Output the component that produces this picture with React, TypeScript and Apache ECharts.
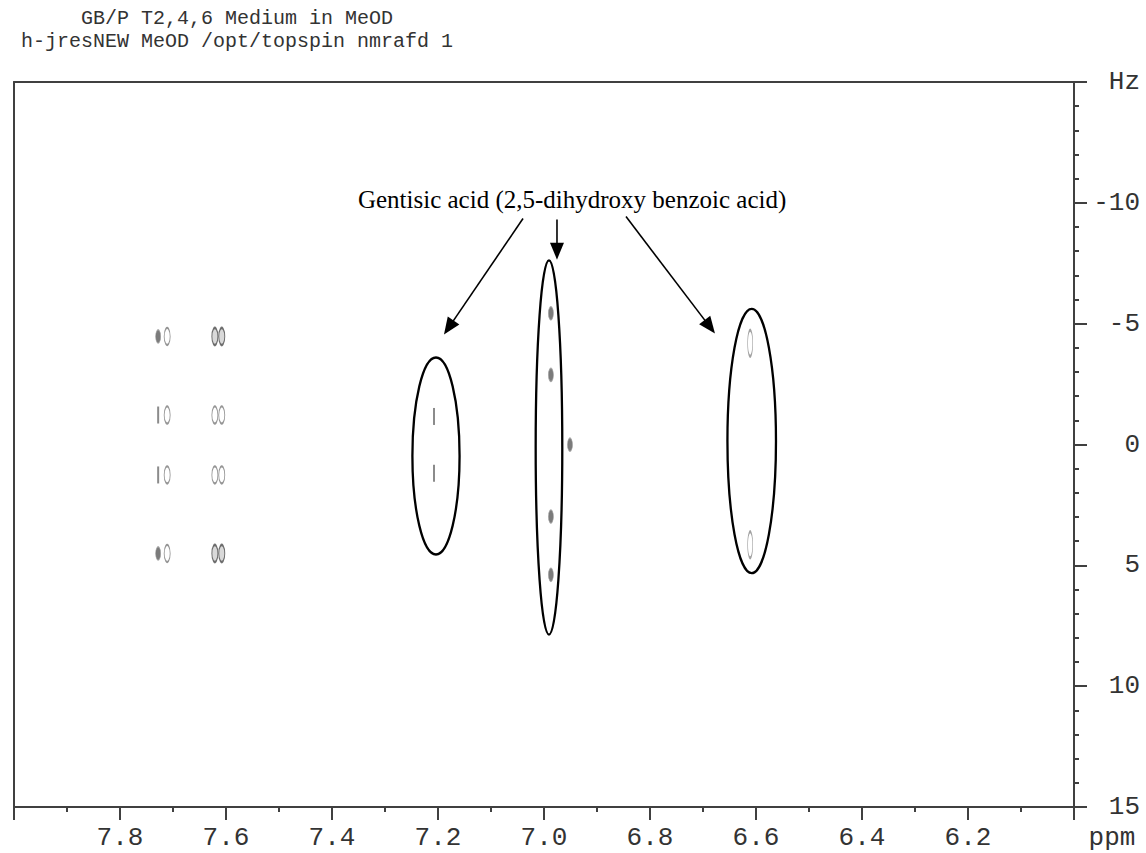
import React, { useEffect, useRef } from "react";
import * as echarts from "echarts";

// ---- header text ----
const titleLines = ["GB/P T2,4,6 Medium in MeOD", "h-jresNEW MeOD /opt/topspin nmrafd 1"];

// ---- axes (F2 chemical shift in ppm, F1 J-coupling in Hz) ----
const ppmMin = 6.0;
const ppmMax = 8.0;
const ppmStep = 0.2;
const hzMin = -15;
const hzMax = 15;
const hzStep = 5;
const xUnit = "ppm";
const yUnit = "Hz";

// ---- peaks [ppm, Hz] ----
const darkDotPeaks = [
  [7.728, -4.47],
  [7.728, 4.51],
  [6.987, -5.43],
  [6.987, -2.88],
  [6.987, 2.98],
  [6.987, 5.39],
  [6.951, 0.01],
];
const thinPeaks = [
  [7.728, -1.22],
  [7.728, 1.26],
  [7.2075, -1.16],
  [7.2075, 1.19],
];
const ringPeaks = [
  [7.711, -4.47],
  [7.711, -1.22],
  [7.711, 1.26],
  [7.711, 4.51],
  [7.621, -1.22],
  [7.621, 1.26],
  [7.608, -1.22],
  [7.608, 1.26],
];
const darkRingPeaks = [
  [7.621, -4.47],
  [7.621, 4.51],
  [7.608, -4.47],
  [7.608, 4.51],
];
const longRingPeaks = [
  [6.611, -4.19],
  [6.611, 4.15],
];

// ---- annotation (data coordinates) ----
const groupLabel = "Gentisic acid (2,5-dihydroxy benzoic acid)";
const groupLabelAt = [6.947, -10.14];
const circledCenters = [
  [7.2038, 0.476],
  [6.9906, 0.124],
  [6.6081, -0.145],
];
const circledHalfAxes = [
  [0.0445, 4.075],
  [0.0251, 7.74],
  [0.0458, 5.47],
];
const arrowFrom = [
  [7.0396, -9.35],
  [6.9755, -9.31],
  [6.8453, -9.43],
];
const arrowTo = [
  [7.1887, -4.55],
  [6.9755, -7.65],
  [6.6774, -4.59],
];

const AXIS_COLOR = "#404040";
const TEXT_COLOR = "#333";
const MONO = "'Liberation Mono', 'DejaVu Sans Mono', monospace";
const SERIF = "'Liberation Serif', 'DejaVu Serif', serif";

const near = (a: number, b: number) => Math.abs(a - b) < 1e-6;

export default function App() {
  const ref = useRef<HTMLDivElement>(null);

  useEffect(() => {
    const chart = echarts.init(ref.current!, null, { renderer: "svg" });
    const lineStyle = { color: AXIS_COLOR, width: 2 };
    const option: any = {
      animation: false,
      backgroundColor: "#fff",
      grid: { left: 14, right: 72, top: 82, bottom: 46, containLabel: false },
      xAxis: [
        {
          type: "value",
          min: ppmMin,
          max: ppmMax,
          interval: ppmStep,
          inverse: true,
          position: "bottom",
          axisLine: { show: true, onZero: false, lineStyle },
          axisTick: { show: true, length: 13, lineStyle },
          minorTick: { show: true, splitNumber: 2, length: 5, lineStyle },
          splitLine: { show: false },
          axisLabel: {
            show: true,
            margin: 18,
            fontFamily: MONO,
            fontSize: 26,
            color: TEXT_COLOR,
            showMinLabel: true,
            showMaxLabel: true,
            formatter: (v: number) => (near(v, ppmMin) || near(v, ppmMax) ? "" : v.toFixed(1)),
          },
        },
        {
          type: "value",
          min: ppmMin,
          max: ppmMax,
          inverse: true,
          position: "top",
          axisLine: { show: true, onZero: false, lineStyle },
          axisTick: { show: false },
          axisLabel: { show: false },
          splitLine: { show: false },
        },
      ],
      yAxis: [
        {
          type: "value",
          min: hzMin,
          max: hzMax,
          interval: hzStep,
          inverse: true,
          position: "right",
          axisLine: { show: true, onZero: false, lineStyle },
          axisTick: { show: true, length: 13, lineStyle },
          minorTick: { show: true, splitNumber: 5, length: 5, lineStyle },
          splitLine: { show: false },
          axisLabel: {
            show: true,
            align: "right",
            margin: 66,
            fontFamily: MONO,
            fontSize: 26,
            color: TEXT_COLOR,
            showMinLabel: true,
            showMaxLabel: true,
            formatter: (v: number) => (near(v, hzMin) ? yUnit : String(v)),
          },
        },
        {
          type: "value",
          min: hzMin,
          max: hzMax,
          inverse: true,
          position: "left",
          axisLine: { show: true, onZero: false, lineStyle },
          axisTick: { show: false },
          axisLabel: { show: false },
          splitLine: { show: false },
        },
      ],
      series: [
        {
          name: "dark dots",
          type: "scatter",
          data: darkDotPeaks,
          symbol: "circle",
          symbolSize: [5, 13],
          itemStyle: { color: "#5a5a5a", borderColor: "#9a9a9a", borderWidth: 1 },
        },
        {
          name: "thin",
          type: "scatter",
          data: thinPeaks,
          symbol: "rect",
          symbolSize: [2, 17],
          itemStyle: { color: "#6e6e6e" },
        },
        {
          name: "rings",
          type: "scatter",
          data: ringPeaks,
          symbol: "circle",
          symbolSize: [6, 17],
          itemStyle: { color: "rgba(0,0,0,0)", borderColor: "#7a7a7a", borderWidth: 1.4 },
        },
        {
          name: "dark rings",
          type: "scatter",
          data: darkRingPeaks,
          symbol: "circle",
          symbolSize: [6, 17],
          itemStyle: { color: "rgba(120,120,120,0.35)", borderColor: "#4e4e4e", borderWidth: 1.6 },
        },
        {
          name: "long rings",
          type: "scatter",
          data: longRingPeaks,
          symbol: "circle",
          symbolSize: [5, 26],
          itemStyle: { color: "rgba(0,0,0,0)", borderColor: "#8a8a8a", borderWidth: 1.4 },
        },
      ],
    };
    chart.setOption(option);

    const px = (p: number[]) =>
      chart.convertToPixel({ xAxisIndex: 0, yAxisIndex: 0 }, p) as number[];

    const graphics: any[] = [];
    titleLines.forEach((line, i) => {
      graphics.push({
        type: "text",
        x: 237,
        y: 18 + i * 23,
        style: {
          text: line,
          fontFamily: MONO,
          fontSize: 20,
          fill: TEXT_COLOR,
          textAlign: "center",
          textVerticalAlign: "middle",
        },
      });
    });
    const rightEdge = px([ppmMin, hzMax]);
    graphics.push({
      type: "text",
      x: rightEdge[0] + 38,
      y: rightEdge[1] + 31,
      style: {
        text: xUnit,
        fontFamily: MONO,
        fontSize: 26,
        fill: TEXT_COLOR,
        textAlign: "center",
        textVerticalAlign: "middle",
      },
    });

    // label
    const lp = px(groupLabelAt);
    graphics.push({
      type: "text",
      x: lp[0],
      y: lp[1],
      style: {
        text: groupLabel,
        fontFamily: SERIF,
        fontSize: 25,
        fill: "#000",
        textAlign: "center",
        textVerticalAlign: "middle",
      },
    });

    // ellipses
    circledCenters.forEach((c, i) => {
      const cp = px(c);
      const ep = px([c[0] - circledHalfAxes[i][0], c[1] + circledHalfAxes[i][1]]);
      graphics.push({
        type: "ellipse",
        shape: { cx: cp[0], cy: cp[1], rx: Math.abs(ep[0] - cp[0]), ry: Math.abs(ep[1] - cp[1]) },
        style: { fill: "none", stroke: "#000", lineWidth: 2.3 },
      });
    });

    // arrows
    const headLen = 17;
    const headHalf = 7;
    arrowFrom.forEach((f, i) => {
      const a = px(f);
      const b = px(arrowTo[i]);
      const dx = b[0] - a[0];
      const dy = b[1] - a[1];
      const len = Math.hypot(dx, dy);
      const ux = dx / len;
      const uy = dy / len;
      const bx = b[0] - ux * headLen;
      const by = b[1] - uy * headLen;
      graphics.push({
        type: "line",
        shape: { x1: a[0], y1: a[1], x2: bx + ux * 2, y2: by + uy * 2 },
        style: { stroke: "#000", lineWidth: 1.6 },
      });
      graphics.push({
        type: "polygon",
        shape: {
          points: [
            [b[0], b[1]],
            [bx - uy * headHalf, by + ux * headHalf],
            [bx + uy * headHalf, by - ux * headHalf],
          ],
        },
        style: { fill: "#000", stroke: "none" },
      });
    });

    chart.setOption({ graphic: graphics });
    return () => chart.dispose();
  }, []);

  return (
    <div
      ref={ref}
      style={{ position: "fixed", left: 0, top: 0, width: 1146, height: 853, background: "#fff" }}
    />
  );
}
